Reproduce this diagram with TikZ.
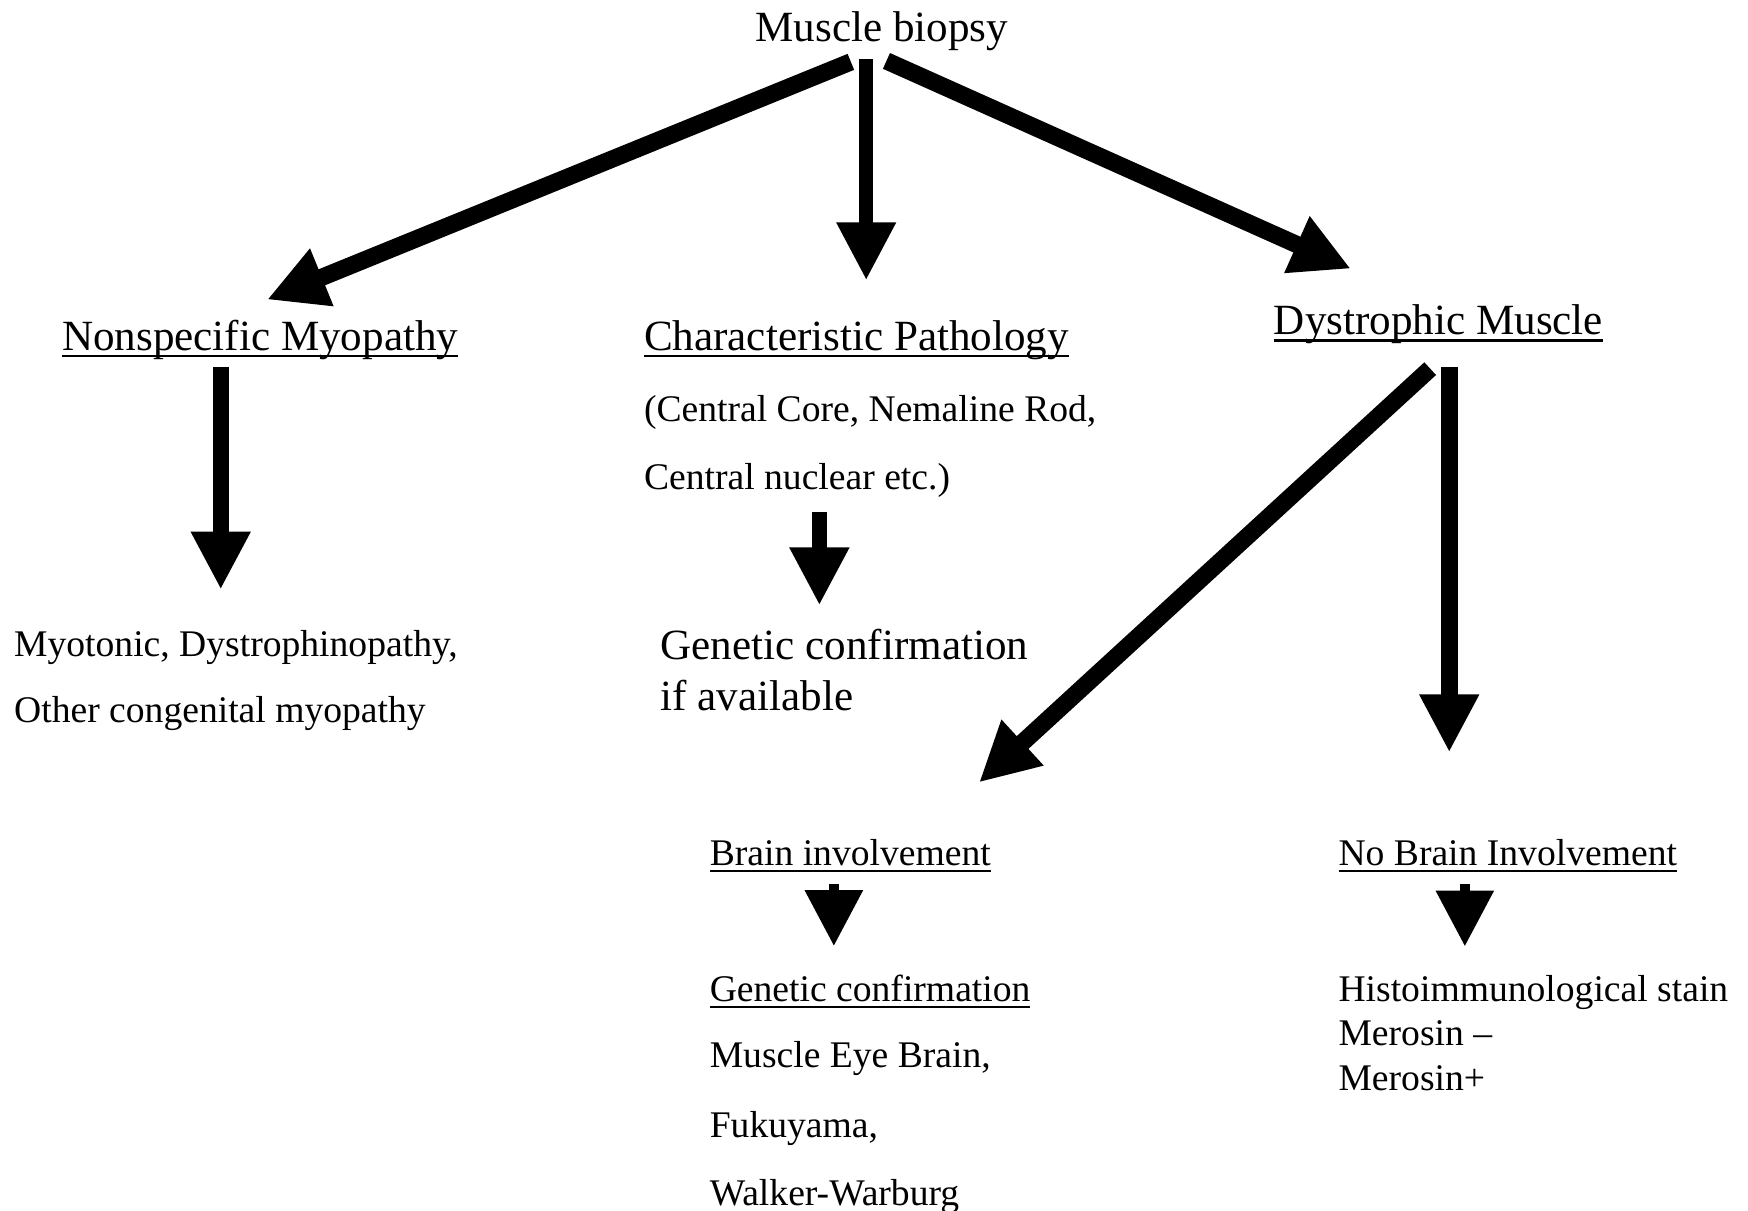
\documentclass[tikz,border=0pt]{standalone}
\usepackage{fontspec}
\setmainfont{Liberation Serif}
\usepackage{tikz}
\usetikzlibrary{arrows.meta}
\newcommand{\undl}[1]{\setbox0\hbox{#1}\rlap{\rule[-1.8pt]{\wd0}{0.6pt}}\box0}
\tikzstyle{head} = [inner sep=0pt, font=\fontsize{11}{13}\selectfont]
\tikzstyle{txt} = [inner sep=0pt, font=\fontsize{9.6}{11}\selectfont]
\tikzstyle{bigarrow} = [line width=1.55mm, -{Triangle[width=5.2mm,length=5.3mm]}]
\tikzstyle{arrow} = [line width=1.45mm, -{Triangle[width=5mm,length=5.2mm]}]
\tikzstyle{smallarrow} = [line width=0.9mm, -{Triangle[width=5mm,length=5mm]}]

\begin{document}
\begin{tikzpicture}[x=0.1mm, y=-0.1mm]
	\useasboundingbox (0,0) rectangle (1568,1086);
	\node[head, anchor=base] (biopsy) at (791,37) {Muscle biopsy};
	\node[head, anchor=base west] (nonspec) at (55,314) {\undl{Nonspecific Myopathy}};
	\node[head, anchor=base west] (charpath) at (577,314) {\undl{Characteristic Pathology}};
	\node[head, anchor=base west] (dystro) at (1142,300) {\undl{Dystrophic Muscle}};
	\node[txt, anchor=base west] (chara) at (577,378) {(Central Core, Nemaline Rod,};
	\node[txt, anchor=base west] (charb) at (577,439) {Central nuclear etc.)};
	\node[head, anchor=base west] (genavail) at (592,592) {Genetic confirmation};
	\node[head, anchor=base west] (ifavail) at (592,637) {if available};
	\node[txt, anchor=base west] (myo) at (12,589) {Myotonic, Dystrophinopathy,};
	\node[txt, anchor=base west] (othercong) at (12,648) {Other congenital myopathy};
	\node[txt, anchor=base west] (brain) at (636,776) {\undl{Brain involvement}};
	\node[txt, anchor=base west] (nobrain) at (1200,776) {\undl{No Brain Involvement}};
	\node[txt, anchor=base west] (genconf) at (636,898) {\undl{Genetic confirmation}};
	\node[txt, anchor=base west] (meb) at (636,958) {Muscle Eye Brain,};
	\node[txt, anchor=base west] (fuku) at (636,1020) {Fukuyama,};
	\node[txt, anchor=base west] (walker) at (636,1081) {Walker-Warburg};
	\node[txt, anchor=base west] (histo) at (1200,898) {Histoimmunological stain};
	\node[txt, anchor=base west] (merminus) at (1200,938) {Merosin –};
	\node[txt, anchor=base west] (merplus) at (1200,978) {Merosin+};

	\draw[bigarrow, shorten <=2.5mm, shorten >=4.6mm] ([xshift=-0.46mm]biopsy.south) -- ([xshift=14.2mm]nonspec.north west);
	\draw[arrow, line width=1.25mm, shorten <=0.7mm, shorten >=3.5mm] ([xshift=-1.4mm]biopsy.south) -- ([xshift=-1.4mm]biopsy.south |- charpath.north);
	\draw[bigarrow, shorten <=2.1mm, shorten >=7.7mm] ([xshift=-1.5mm]biopsy.south) -- ([xshift=14mm]dystro.north west);
	\draw[arrow, shorten <=0.6mm, shorten >=3.6mm] ([xshift=14.3mm]nonspec.south west) -- ([xshift=14.3mm]nonspec.south west |- myo.north);
	\draw[arrow, line width=1.3mm, shorten <=1.2mm, shorten >=2.1mm] ([xshift=15.8mm]charb.south west) -- ([xshift=15.8mm]charb.south west |- genavail.north);
	\draw[bigarrow, shorten <=3.2mm, shorten >=7.4mm] ([xshift=16.45mm]dystro.south west) -- ([xshift=18.77mm]brain.north west);
	\draw[arrow, line width=1.55mm, shorten <=2mm, shorten >=7.7mm] ([xshift=15.8mm]dystro.south west) -- ([xshift=15.8mm]dystro.south west |- nobrain.north);
	\draw[smallarrow, shorten <=1mm, shorten >=2.5mm] ([xshift=11.2mm]brain.south west) -- ([xshift=11.2mm]brain.south west |- genconf.north);
	\draw[smallarrow, shorten <=1mm, shorten >=2.5mm] ([xshift=11.4mm]nobrain.south west) -- ([xshift=11.4mm]nobrain.south west |- histo.north);
\end{tikzpicture}
\end{document}
